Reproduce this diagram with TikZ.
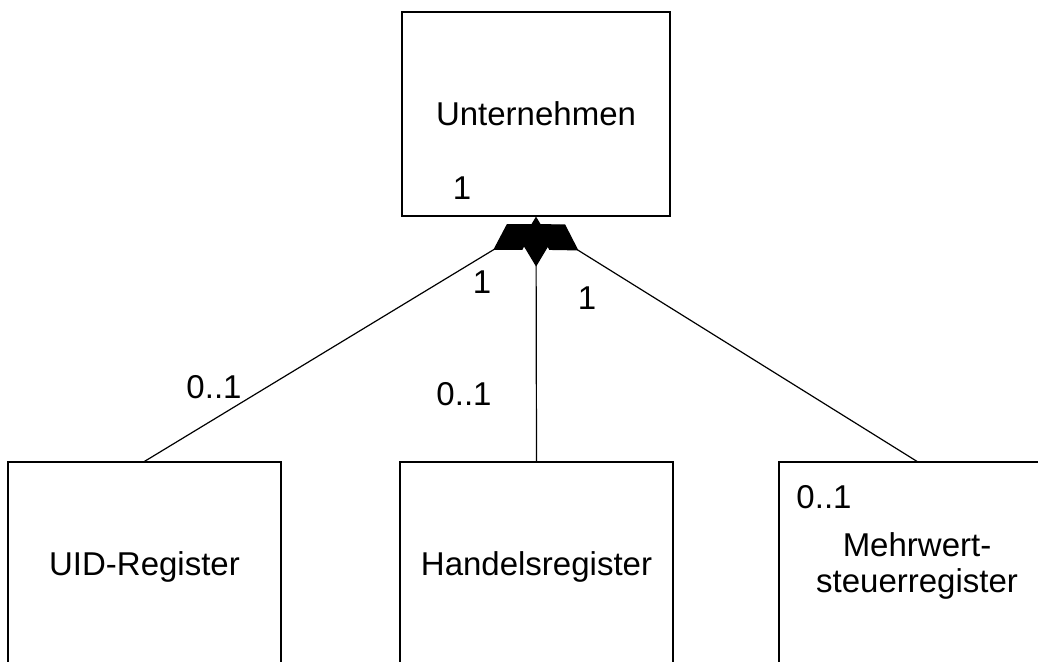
\documentclass[tikz,border=0pt]{standalone}
\usepackage{fontspec}
\setmainfont{Liberation Sans}
\usetikzlibrary{arrows.meta}

\begin{document}
\begin{tikzpicture}[x = 0.5pt, y = -0.5pt,
		every node/.style = {font = \fontsize{16.5}{18}\selectfont},
		klasse/.style = {draw, line width = 0.6pt, inner sep = 0pt, align = center},
		komp/.style = {line width = 0.6pt, {Diamond[length = 25pt, width = 15pt, fill = black]}-}]
			\useasboundingbox (0,0) rectangle (1038,662);
			\clip (0,0) rectangle (1038,662);

			\begin{scope}
				\node [klasse, minimum width = 134pt, minimum height = 102pt] (unt) at (536,114) {Unternehmen};
				\node [klasse, minimum width = 136.5pt, minimum height = 105pt] (uid) at (144.5,567) {UID-Register};
				\node [klasse, minimum width = 136.5pt, minimum height = 105pt] (hr) at (536.5,567) {Handelsregister};
				\node [klasse, minimum width = 138pt, minimum height = 105pt] (mwst) at (917,567) {};
				\node [align = center] (mwtext) at (917,566) {Mehrwert-\\steuerregister};
			\end{scope}

			\coordinate (hub) at (536,224);

			\draw [komp] (hub) -- (uid.north);
			\draw [komp] (hub) -- (mwst.north);
			\draw [komp] (unt.south) -- (hr.north);

			% multiplicities
			\node (m1) at (462,188) {1};
			\node (m2) at (482,282.5) {1};
			\node (m3) at (587,298.5) {1};
			\node (m4) at (214,387.5) {0..1};
			\node (m5) at (464,394.5) {0..1};
			\node (m6) at (824,497.5) {0..1};
		\end{tikzpicture}
\end{document}
